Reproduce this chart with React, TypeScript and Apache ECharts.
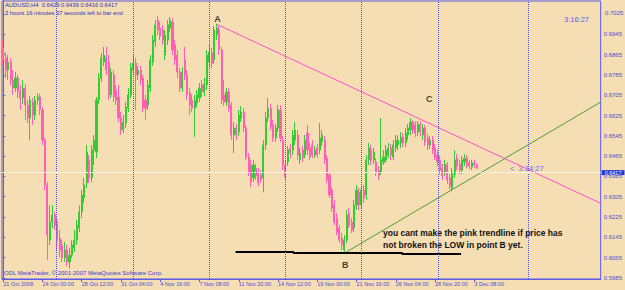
import React, { useEffect, useRef } from "react";
import * as echarts from "echarts";

// [open, close, low, high] per H4 bar, AUDUSD
const candles = [
  [0.6891, 0.6844, 0.6824, 0.6922], [0.6851, 0.6804, 0.6773, 0.6875], [0.6804, 0.6836, 0.6765, 0.6863],
  [0.6836, 0.6765, 0.6745, 0.6851], [0.6765, 0.6733, 0.6706, 0.6804], [0.6733, 0.6773, 0.6718, 0.6796],
  [0.6773, 0.6718, 0.6694, 0.6785], [0.6718, 0.6694, 0.6647, 0.6745], [0.6694, 0.6733, 0.6670, 0.6765],
  [0.6733, 0.6666, 0.6607, 0.6749], [0.6666, 0.6615, 0.6595, 0.6686], [0.6615, 0.6686, 0.6528, 0.6702],
  [0.6678, 0.6627, 0.6588, 0.6694], [0.6627, 0.6686, 0.6607, 0.6702], [0.6686, 0.6698, 0.6666, 0.6714],
  [0.6698, 0.6647, 0.6627, 0.6710], [0.6647, 0.6528, 0.6509, 0.6658], [0.6528, 0.6351, 0.6331, 0.6536],
  [0.6351, 0.6154, 0.6056, 0.6363], [0.6134, 0.6205, 0.6115, 0.6272], [0.6205, 0.6233, 0.6182, 0.6272],
  [0.6233, 0.6193, 0.6174, 0.6245], [0.6205, 0.6134, 0.6095, 0.6221], [0.6142, 0.6095, 0.6067, 0.6174],
  [0.6115, 0.6064, 0.6048, 0.6134], [0.6064, 0.6095, 0.6048, 0.6127], [0.6095, 0.6048, 0.6032, 0.6115],
  [0.6048, 0.6075, 0.6024, 0.6103], [0.6075, 0.6115, 0.6064, 0.6134], [0.6103, 0.6134, 0.6087, 0.6174],
  [0.6134, 0.6193, 0.6115, 0.6213], [0.6182, 0.6245, 0.6166, 0.6272], [0.6245, 0.6312, 0.6221, 0.6331],
  [0.6300, 0.6351, 0.6280, 0.6379], [0.6359, 0.6481, 0.6339, 0.6509], [0.6450, 0.6379, 0.6359, 0.6469],
  [0.6379, 0.6489, 0.6363, 0.6509], [0.6489, 0.6528, 0.6430, 0.6548], [0.6481, 0.6686, 0.6457, 0.6698],
  [0.6686, 0.6773, 0.6670, 0.6792], [0.6773, 0.6851, 0.6757, 0.6871], [0.6836, 0.6863, 0.6820, 0.6895],
  [0.6855, 0.6804, 0.6785, 0.6895], [0.6836, 0.6706, 0.6686, 0.6863], [0.6706, 0.6796, 0.6694, 0.6812],
  [0.6785, 0.6698, 0.6678, 0.6804], [0.6725, 0.6686, 0.6666, 0.6745], [0.6698, 0.6615, 0.6599, 0.6745],
  [0.6615, 0.6568, 0.6548, 0.6639], [0.6568, 0.6599, 0.6556, 0.6627], [0.6595, 0.6658, 0.6576, 0.6678],
  [0.6654, 0.6706, 0.6639, 0.6733], [0.6706, 0.6812, 0.6694, 0.6832], [0.6804, 0.6832, 0.6785, 0.6863],
  [0.6832, 0.6785, 0.6647, 0.6851], [0.6785, 0.6804, 0.6765, 0.6820], [0.6804, 0.6765, 0.6745, 0.6820],
  [0.6773, 0.6654, 0.6639, 0.6785], [0.6686, 0.6654, 0.6607, 0.6706], [0.6666, 0.6745, 0.6647, 0.6765],
  [0.6733, 0.6844, 0.6718, 0.6863], [0.6836, 0.6922, 0.6820, 0.6942], [0.6915, 0.6982, 0.6895, 0.7001],
  [0.7001, 0.6962, 0.6942, 0.7017], [0.6970, 0.6938, 0.6922, 0.6993], [0.6962, 0.6922, 0.6903, 0.6982],
  [0.6863, 0.6942, 0.6844, 0.6962], [0.6922, 0.6982, 0.6903, 0.7001], [0.6970, 0.7001, 0.6954, 0.7013],
  [0.6993, 0.6883, 0.6863, 0.7009], [0.6903, 0.6844, 0.6824, 0.6922], [0.6863, 0.6796, 0.6773, 0.6883],
  [0.6796, 0.6733, 0.6718, 0.6812], [0.6733, 0.6796, 0.6718, 0.6816], [0.6844, 0.6785, 0.6765, 0.6895],
  [0.6785, 0.6706, 0.6686, 0.6804], [0.6714, 0.6666, 0.6627, 0.6733], [0.6686, 0.6654, 0.6639, 0.6706],
  [0.6654, 0.6686, 0.6540, 0.6706], [0.6674, 0.6706, 0.6658, 0.6725], [0.6694, 0.6733, 0.6678, 0.6753],
  [0.6745, 0.6718, 0.6698, 0.6765], [0.6718, 0.6749, 0.6702, 0.6773], [0.6745, 0.6863, 0.6725, 0.6883],
  [0.6836, 0.6875, 0.6820, 0.6903], [0.6871, 0.6832, 0.6812, 0.6891], [0.6844, 0.6962, 0.6828, 0.6978],
  [0.6942, 0.6970, 0.6922, 0.6985], [0.6962, 0.6883, 0.6863, 0.6978], [0.6883, 0.6686, 0.6670, 0.6895],
  [0.6706, 0.6678, 0.6662, 0.6765], [0.6678, 0.6718, 0.6662, 0.6733], [0.6718, 0.6654, 0.6639, 0.6733],
  [0.6666, 0.6548, 0.6528, 0.6678], [0.6548, 0.6576, 0.6477, 0.6599], [0.6576, 0.6548, 0.6528, 0.6591],
  [0.6560, 0.6627, 0.6544, 0.6647], [0.6615, 0.6639, 0.6599, 0.6662], [0.6639, 0.6576, 0.6560, 0.6654],
  [0.6576, 0.6461, 0.6450, 0.6588], [0.6461, 0.6402, 0.6387, 0.6477], [0.6430, 0.6363, 0.6343, 0.6450],
  [0.6379, 0.6430, 0.6363, 0.6450], [0.6418, 0.6387, 0.6371, 0.6434], [0.6402, 0.6359, 0.6347, 0.6418],
  [0.6391, 0.6371, 0.6359, 0.6410], [0.6379, 0.6509, 0.6323, 0.6528], [0.6509, 0.6615, 0.6489, 0.6639],
  [0.6615, 0.6654, 0.6599, 0.6694], [0.6654, 0.6580, 0.6568, 0.6670], [0.6588, 0.6536, 0.6521, 0.6607],
  [0.6536, 0.6576, 0.6521, 0.6591], [0.6576, 0.6647, 0.6560, 0.6666], [0.6647, 0.6536, 0.6521, 0.6666],
  [0.6528, 0.6430, 0.6410, 0.6544], [0.6430, 0.6383, 0.6371, 0.6450], [0.6442, 0.6489, 0.6426, 0.6505],
  [0.6497, 0.6477, 0.6457, 0.6513], [0.6489, 0.6548, 0.6469, 0.6568], [0.6528, 0.6568, 0.6509, 0.6599],
  [0.6548, 0.6469, 0.6450, 0.6568], [0.6450, 0.6477, 0.6434, 0.6497], [0.6489, 0.6457, 0.6442, 0.6505],
  [0.6469, 0.6528, 0.6457, 0.6548], [0.6556, 0.6489, 0.6469, 0.6588], [0.6497, 0.6461, 0.6450, 0.6517],
  [0.6509, 0.6469, 0.6457, 0.6528], [0.6469, 0.6489, 0.6457, 0.6505], [0.6497, 0.6469, 0.6457, 0.6513],
  [0.6489, 0.6536, 0.6473, 0.6595], [0.6521, 0.6548, 0.6505, 0.6568], [0.6528, 0.6450, 0.6434, 0.6544],
  [0.6457, 0.6371, 0.6359, 0.6469], [0.6391, 0.6312, 0.6300, 0.6402], [0.6331, 0.6260, 0.6245, 0.6343],
  [0.6272, 0.6205, 0.6193, 0.6292], [0.6221, 0.6166, 0.6154, 0.6241], [0.6182, 0.6134, 0.6123, 0.6193],
  [0.6142, 0.6115, 0.6095, 0.6162], [0.6095, 0.6134, 0.6083, 0.6154], [0.6134, 0.6233, 0.6123, 0.6253],
  [0.6241, 0.6193, 0.6182, 0.6260], [0.6205, 0.6174, 0.6162, 0.6221], [0.6182, 0.6272, 0.6166, 0.6292],
  [0.6272, 0.6331, 0.6253, 0.6351], [0.6323, 0.6272, 0.6253, 0.6339], [0.6272, 0.6331, 0.6260, 0.6347],
  [0.6331, 0.6300, 0.6280, 0.6351], [0.6312, 0.6450, 0.6292, 0.6469], [0.6450, 0.6497, 0.6430, 0.6517],
  [0.6489, 0.6450, 0.6430, 0.6509], [0.6450, 0.6481, 0.6434, 0.6497], [0.6442, 0.6402, 0.6387, 0.6457],
  [0.6410, 0.6387, 0.6371, 0.6426], [0.6402, 0.6450, 0.6391, 0.6615], [0.6442, 0.6461, 0.6430, 0.6489],
  [0.6450, 0.6489, 0.6438, 0.6509], [0.6469, 0.6497, 0.6457, 0.6517], [0.6497, 0.6469, 0.6450, 0.6513],
  [0.6461, 0.6509, 0.6450, 0.6528], [0.6497, 0.6528, 0.6481, 0.6548], [0.6509, 0.6528, 0.6489, 0.6548],
  [0.6517, 0.6540, 0.6497, 0.6560], [0.6540, 0.6517, 0.6501, 0.6556], [0.6517, 0.6556, 0.6501, 0.6576],
  [0.6548, 0.6576, 0.6528, 0.6591], [0.6568, 0.6599, 0.6548, 0.6615], [0.6599, 0.6568, 0.6552, 0.6607],
  [0.6588, 0.6556, 0.6540, 0.6603], [0.6560, 0.6591, 0.6544, 0.6603], [0.6591, 0.6560, 0.6544, 0.6603],
  [0.6548, 0.6576, 0.6528, 0.6591], [0.6576, 0.6521, 0.6505, 0.6588], [0.6536, 0.6509, 0.6489, 0.6552],
  [0.6509, 0.6528, 0.6493, 0.6544], [0.6528, 0.6489, 0.6473, 0.6544], [0.6497, 0.6461, 0.6450, 0.6513],
  [0.6469, 0.6442, 0.6426, 0.6489], [0.6450, 0.6410, 0.6394, 0.6465], [0.6418, 0.6387, 0.6371, 0.6434],
  [0.6402, 0.6434, 0.6387, 0.6450], [0.6430, 0.6371, 0.6355, 0.6442], [0.6379, 0.6347, 0.6335, 0.6394],
  [0.6339, 0.6402, 0.6327, 0.6418], [0.6394, 0.6450, 0.6379, 0.6489], [0.6457, 0.6426, 0.6410, 0.6473],
  [0.6434, 0.6410, 0.6394, 0.6450], [0.6410, 0.6450, 0.6394, 0.6465], [0.6442, 0.6457, 0.6426, 0.6473],
  [0.6457, 0.6430, 0.6418, 0.6469], [0.6438, 0.6426, 0.6414, 0.6450], [0.6422, 0.6438, 0.6410, 0.6450],
  [0.6438, 0.6430, 0.6418, 0.6450], [0.6429, 0.6417, 0.6416, 0.6439],
];

const tickLabels = [
  "21 Oct 2008", "24 Oct 00:00", "28 Oct 12:00", "31 Oct 04:00", "4 Nov 16:00", "7 Nov 08:00",
  "11 Nov 20:00", "14 Nov 12:00", "19 Nov 00:00", "21 Nov 16:00", "26 Nov 04:00", "28 Nov 20:00",
  "3 Dec 08:00",
];
const labelStep = 16;
const slotCount = 244;

// price scale ticks and labels
const priceTicks = [
  0.5985, 0.6065, 0.6145, 0.6225, 0.6305, 0.6385, 0.6465, 0.6545, 0.6625, 0.6705, 0.6785, 0.6865,
  0.6945, 0.7025,
];
const topPrice = 0.7025;
const priceMin = 0.5981;
const priceMax = 0.7076;
const bidPrice = 0.6417;

// drawn objects (bar index, price)
const pinkTrend = [[86.9, 0.6985], [243.5, 0.6279]];
const greenTrend = [[139.8, 0.6087], [243.5, 0.6678]];
const lowLine = [
  [94.7, 0.6087], [118.3, 0.6087], [118.3, 0.6083], [162.6, 0.6083], [162.6, 0.6079], [186.6, 0.6079],
];
const separators = [21.66, 52.98, 83.88, 114.79, 146.1, 177.42, 214.02];
const pointLabels = [
  [87.3, 0.7005, "A"],
  [139.4, 0.6036, "B"],
  [173.6, 0.669, "C"],
];

const BLUE = "#4b4bd8";
const AXIS = "#5a5ae6";
const BG = "#f5deb3";

export default function App() {
  const ref = useRef<HTMLDivElement>(null);
  useEffect(() => {
    if (!ref.current) return;
    const chart = echarts.init(ref.current, null, { renderer: "svg" });
    const categories = Array.from({ length: slotCount }, (_, i) =>
      i % labelStep === 0 && i / labelStep < tickLabels.length ? tickLabels[i / labelStep] : ""
    );
    const showIdx = (i: number) => i % labelStep === 0 && i / labelStep < tickLabels.length;
    const font = "Liberation Sans";
    const labelValues = priceTicks.filter((v) => v !== topPrice);
    const top = 1;
    const plotH = 290 - 11 - top;
    const topLabelY = top + ((priceMax - topPrice) / (priceMax - priceMin)) * plotH;
    chart.setOption({
      animation: false,
      backgroundColor: BG,
      textStyle: { fontFamily: font },
      grid: {
        left: 2,
        right: 23,
        top,
        bottom: 11,
        show: true,
        borderColor: AXIS,
        borderWidth: 1,
        backgroundColor: BG,
      },
      xAxis: [
        {
          type: "category",
          data: categories,
          boundaryGap: true,
          axisLine: { show: true, lineStyle: { color: AXIS, width: 1 } },
          axisTick: {
            show: true,
            alignWithLabel: true,
            interval: (i: number) => showIdx(i),
            length: 3,
            lineStyle: { color: AXIS },
          },
          axisLabel: {
            interval: (i: number) => showIdx(i),
            align: "left",
            fontSize: 5.5,
            color: BLUE,
            margin: 2,
            fontFamily: font,
          },
          splitLine: { show: false },
        },
        {
          type: "value",
          position: "bottom",
          min: -0.5,
          max: slotCount - 0.5,
          show: false,
          splitLine: { show: false },
        },
      ],
      yAxis: {
        type: "value",
        position: "right",
        min: priceMin,
        max: priceMax,
        axisLine: { show: true, lineStyle: { color: AXIS } },
        axisTick: { show: true, length: 2, customValues: priceTicks, lineStyle: { color: AXIS } },
        axisLabel: {
          customValues: labelValues,
          showMinLabel: true,
          showMaxLabel: true,
          hideOverlap: false,
          formatter: (v: number) => v.toFixed(4),
          fontSize: 6,
          color: BLUE,
          margin: 3,
          fontFamily: font,
        },
        splitLine: { show: false },
      },
      series: [
        {
          type: "line",
          xAxisIndex: 1,
          data: [],
          silent: true,
          markLine: {
            symbol: "none",
            silent: true,
            label: { show: false },
            lineStyle: { color: "#4f4fff", type: "dotted", width: 1 },
            data: separators.map((x) => ({ xAxis: x })),
          },
        },
        {
          type: "candlestick",
          xAxisIndex: 0,
          data: candles,
          barWidth: 1.6,
          itemStyle: {
            color: "#33cc33",
            color0: "#ff5fb4",
            borderColor: "#33cc33",
            borderColor0: "#ff5fb4",
            borderWidth: 1,
          },
          markLine: {
            symbol: "none",
            silent: true,
            data: [{ yAxis: bidPrice }],
            lineStyle: { color: "#fbfbf4", type: [2, 1], width: 1 },
            label: {
              show: true,
              position: "end",
              distance: 1,
              formatter: bidPrice.toFixed(4),
              backgroundColor: "#2338d8",
              color: "#ffffff",
              fontSize: 5.5,
              lineHeight: 5,
              padding: [0, 3, 0, 3],
              fontFamily: font,
            },
          },
        },
        {
          type: "line",
          xAxisIndex: 1,
          data: pinkTrend,
          symbol: "none",
          silent: true,
          lineStyle: { color: "#ff4fd2", width: 1 },
        },
        {
          type: "line",
          xAxisIndex: 1,
          data: greenTrend,
          symbol: "none",
          silent: true,
          lineStyle: { color: "#4f9a3c", width: 1 },
        },
        {
          type: "line",
          xAxisIndex: 1,
          data: lowLine,
          symbol: "none",
          silent: true,
          lineStyle: { color: "#000000", width: 2 },
        },
        {
          type: "scatter",
          xAxisIndex: 1,
          data: pointLabels,
          symbolSize: 0,
          silent: true,
          label: {
            show: true,
            position: "inside",
            formatter: (p: any) => p.data[2],
            color: "#111111",
            fontSize: 9,
            fontWeight: "bold",
            fontFamily: font,
          },
        },
      ],
      graphic: [
        {
          type: "text",
          z: 100,
          left: 605,
          top: topLabelY - 3.5,
          style: {
            text: topPrice.toFixed(4),
            fill: BLUE,
            fontSize: 6,
            fontFamily: font,
          },
        },
        {
          type: "text",
          left: 5,
          top: 2,
          style: {
            text: "AUDUSD,H4  0.6429 0.6439 0.6416 0.6417",
            fill: "#2e2eb8",
            fontSize: 5.8,
            fontFamily: font,
          },
        },
        {
          type: "text",
          left: 5,
          top: 10,
          style: {
            text: "3 hours 16 minutes 37 seconds left to bar end",
            fill: "#2e2eb8",
            fontSize: 5.8,
            fontFamily: font,
          },
        },
        {
          type: "text",
          left: 564,
          top: 15,
          style: { text: "3:16:27", fill: "#5a5af0", fontSize: 7.5, fontFamily: font },
        },
        {
          type: "text",
          left: 510,
          top: 164,
          style: { text: "<  3:14:27", fill: "#6c6cf2", fontSize: 7.5, fontFamily: font },
        },
        {
          type: "text",
          left: 4,
          top: 270,
          style: {
            text: "ODL MetaTrader, \u00a9 2001-2007 MetaQuotes Software Corp.",
            fill: "#3a3ad0",
            fontSize: 6,
            fontFamily: font,
          },
        },
        {
          type: "text",
          left: 383,
          top: 228,
          style: {
            text: "you cant make the pink trendline if price has",
            fill: "#111111",
            fontSize: 8.5,
            fontWeight: "bold",
            fontFamily: font,
          },
        },
        {
          type: "text",
          left: 383,
          top: 240,
          style: {
            text: "not broken the LOW in point B yet.",
            fill: "#111111",
            fontSize: 8.5,
            fontWeight: "bold",
            fontFamily: font,
          },
        },
      ],
    });
    return () => chart.dispose();
  }, []);
  return (
    <div
      ref={ref}
      style={{ position: "absolute", left: 0, top: 0, width: 625, height: 290, background: BG }}
    />
  );
}
